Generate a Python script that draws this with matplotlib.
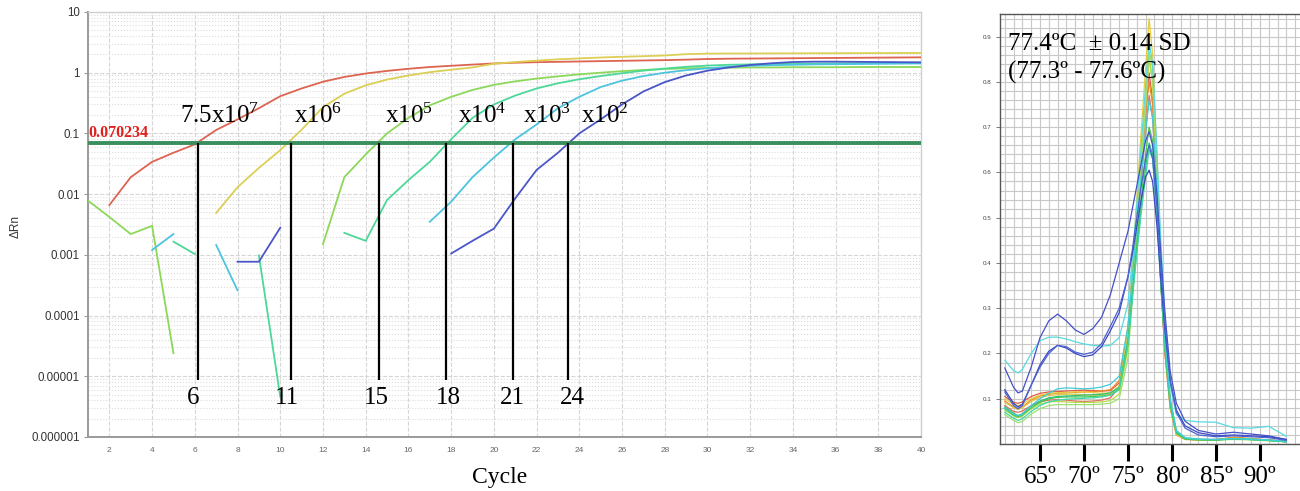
import matplotlib
matplotlib.use('Agg')
import matplotlib.pyplot as plt
import numpy as np
from matplotlib.ticker import MultipleLocator, LogLocator, NullFormatter

plt.rcParams['mathtext.fontset'] = 'custom'
plt.rcParams['mathtext.rm'] = 'Liberation Serif'
plt.rcParams['mathtext.it'] = 'Liberation Serif:italic'

nan = np.nan

# ---------------- amplification plot data ----------------
cycles = list(range(1, 41))

amp_red = [nan, 0.0066, 0.019, 0.034, 0.048, 0.066, 0.114, 0.17, 0.26, 0.41,
           0.55, 0.71, 0.85, 0.97, 1.07, 1.16, 1.24, 1.3, 1.36, 1.42,
           1.46, 1.49, 1.51, 1.53, 1.55, 1.57, 1.59, 1.61, 1.64, 1.68,
           1.7, 1.71, 1.72, 1.73, 1.74, 1.75, 1.76, 1.77, 1.78, 1.79]
amp_yellow = [nan, nan, nan, nan, nan, nan, 0.0049, 0.013, 0.027, 0.053,
              0.115, 0.27, 0.45, 0.62, 0.77, 0.9, 1.02, 1.12, 1.22, 1.4,
              1.5, 1.58, 1.66, 1.72, 1.78, 1.83, 1.87, 1.92, 2.02, 2.06,
              2.07, 2.07, 2.08, 2.08, 2.09, 2.09, 2.1, 2.1, 2.11, 2.11]
amp_green = [0.0078, 0.0042, 0.0022, 0.003, 0.000024, nan, nan, nan, nan, nan,
             nan, 0.0015, 0.019, 0.045, 0.1, 0.18, 0.29, 0.4, 0.52, 0.63,
             0.72, 0.8, 0.87, 0.94, 1.0, 1.06, 1.11, 1.15, 1.18, 1.2,
             1.21, 1.22, 1.22, 1.23, 1.23, 1.23, 1.24, 1.24, 1.24, 1.24]
amp_mint = [nan, nan, nan, nan, 0.00165, 0.00103, nan, nan, 0.00098, 0.0000046,
            nan, nan, 0.0023, 0.0017, 0.008, 0.017, 0.034, 0.08, 0.18, 0.3,
            0.42, 0.55, 0.67, 0.78, 0.88, 0.98, 1.08, 1.17, 1.25, 1.31,
            1.35, 1.37, 1.39, 1.4, 1.41, 1.42, 1.43, 1.44, 1.45, 1.46]
amp_cyan = [nan, nan, nan, 0.0012, 0.0022, nan, 0.00145, 0.00026, nan, nan,
            nan, nan, nan, nan, nan, nan, 0.0035, 0.0075, 0.019, 0.04,
            0.08, 0.14, 0.26, 0.4, 0.58, 0.74, 0.88, 1.0, 1.1, 1.18,
            1.25, 1.3, 1.33, 1.35, 1.37, 1.38, 1.39, 1.4, 1.41, 1.42]
amp_blue = [nan, nan, nan, nan, nan, nan, nan, 0.00077, 0.00077, 0.0028,
            nan, nan, nan, nan, nan, nan, nan, 0.00105, 0.0017, 0.0027,
            0.0085, 0.025, 0.048, 0.1, 0.17, 0.3, 0.49, 0.7, 0.9, 1.08,
            1.22, 1.34, 1.43, 1.5, 1.52, 1.52, 1.51, 1.5, 1.49, 1.48]

amp_series = [amp_red, amp_yellow, amp_green, amp_mint, amp_cyan, amp_blue]
amp_colors = ['#dc6450', '#dccf55', '#8cd85a', '#4cd898', '#4cc4e0', '#4a56c8']

threshold = 0.070234
ct_values = [6.13, 10.5, 14.6, 17.76, 20.88, 23.47]
ct_labels = ['6', '11', '15', '18', '21', '24']
dilution_labels = ['7.5x10$^7$', 'x10$^6$', 'x10$^5$', 'x10$^4$', 'x10$^3$', 'x10$^2$']

# ---------------- melt curve data ----------------
melt_T = [61, 62, 62.5, 63, 64, 65, 66, 67, 68, 69, 70, 71, 72, 73, 74,
          75, 75.5, 76, 76.5, 77, 77.4, 77.8, 78.3, 78.7, 79.2, 79.8, 80.5,
          81.5, 83, 85, 87, 89, 91, 93]

melt_red_a = [0.105, 0.092, 0.090, 0.093, 0.105, 0.112, 0.115, 0.116, 0.117, 0.118, 0.119, 0.118, 0.117, 0.118, 0.135,
              0.25, 0.37, 0.49, 0.61, 0.73, 0.82, 0.76, 0.57, 0.39, 0.22, 0.09, 0.025,
              0.012, 0.010, 0.010, 0.014, 0.011, 0.009, 0.006]
melt_red_b = [0.085, 0.072, 0.070, 0.073, 0.085, 0.093, 0.097, 0.098, 0.097, 0.095, 0.094, 0.095, 0.097, 0.102, 0.125,
              0.24, 0.36, 0.47, 0.58, 0.69, 0.77, 0.72, 0.54, 0.37, 0.2, 0.08, 0.022,
              0.011, 0.009, 0.01, 0.012, 0.01, 0.008, 0.005]
melt_orange = [0.095, 0.082, 0.078, 0.082, 0.097, 0.106, 0.11, 0.112, 0.113, 0.114, 0.115, 0.116, 0.117, 0.12, 0.14,
               0.26, 0.38, 0.5, 0.62, 0.73, 0.80, 0.75, 0.55, 0.37, 0.2, 0.08, 0.02,
               0.01, 0.009, 0.009, 0.015, 0.012, 0.009, 0.006]
melt_yellow_a = [0.1, 0.088, 0.085, 0.088, 0.1, 0.108, 0.112, 0.113, 0.114, 0.115, 0.115, 0.114, 0.112, 0.113, 0.128,
                 0.25, 0.39, 0.54, 0.69, 0.83, 0.94, 0.86, 0.62, 0.41, 0.22, 0.085, 0.022,
                 0.011, 0.009, 0.009, 0.013, 0.011, 0.008, 0.005]
melt_yellow_b = [0.092, 0.08, 0.076, 0.08, 0.094, 0.103, 0.107, 0.109, 0.11, 0.11, 0.109, 0.108, 0.108, 0.11, 0.125,
                 0.24, 0.37, 0.5, 0.63, 0.76, 0.86, 0.8, 0.58, 0.39, 0.21, 0.08, 0.021,
                 0.011, 0.009, 0.009, 0.012, 0.01, 0.008, 0.005]
melt_yellowgreen = [0.075, 0.062, 0.058, 0.062, 0.078, 0.088, 0.093, 0.094, 0.093, 0.092, 0.092, 0.092, 0.093, 0.096, 0.11,
                    0.21, 0.34, 0.48, 0.62, 0.75, 0.85, 0.8, 0.6, 0.42, 0.24, 0.095, 0.026,
                    0.012, 0.01, 0.009, 0.011, 0.01, 0.008, 0.005]
melt_lightgreen = [0.065, 0.052, 0.047, 0.05, 0.066, 0.078, 0.085, 0.087, 0.087, 0.087, 0.087, 0.087, 0.088, 0.09, 0.1,
                   0.19, 0.32, 0.46, 0.61, 0.75, 0.87, 0.83, 0.63, 0.44, 0.25, 0.1, 0.028,
                   0.012, 0.01, 0.009, 0.01, 0.009, 0.007, 0.005]
melt_green = [0.078, 0.064, 0.06, 0.064, 0.08, 0.092, 0.1, 0.103, 0.104, 0.104, 0.104, 0.105, 0.106, 0.108, 0.12,
              0.22, 0.33, 0.44, 0.54, 0.64, 0.70, 0.67, 0.52, 0.37, 0.21, 0.085, 0.024,
              0.011, 0.009, 0.009, 0.011, 0.01, 0.008, 0.005]
melt_teal = [0.082, 0.068, 0.063, 0.067, 0.084, 0.095, 0.102, 0.105, 0.106, 0.107, 0.108, 0.109, 0.11, 0.113, 0.125,
             0.23, 0.33, 0.43, 0.52, 0.61, 0.665, 0.64, 0.5, 0.36, 0.21, 0.09, 0.026,
             0.012, 0.01, 0.009, 0.011, 0.01, 0.008, 0.005]
melt_mint = [0.07, 0.057, 0.052, 0.056, 0.072, 0.085, 0.093, 0.097, 0.099, 0.1, 0.101, 0.102, 0.104, 0.108, 0.122,
             0.22, 0.32, 0.42, 0.51, 0.59, 0.65, 0.63, 0.5, 0.37, 0.22, 0.095, 0.028,
             0.013, 0.01, 0.01, 0.012, 0.01, 0.008, 0.005]
melt_cyan = [0.08, 0.066, 0.062, 0.066, 0.085, 0.1, 0.112, 0.122, 0.124, 0.123, 0.122, 0.123, 0.126, 0.132, 0.15,
             0.26, 0.37, 0.48, 0.59, 0.69, 0.76, 0.72, 0.56, 0.4, 0.24, 0.1, 0.03,
             0.014, 0.011, 0.01, 0.012, 0.011, 0.009, 0.006]
melt_cyan_high = [0.185, 0.162, 0.157, 0.165, 0.2, 0.228, 0.236, 0.236, 0.232, 0.226, 0.221, 0.218, 0.216, 0.218, 0.235,
                  0.31, 0.41, 0.53, 0.66, 0.79, 0.89, 0.84, 0.64, 0.46, 0.28, 0.13, 0.065,
                  0.052, 0.049, 0.048, 0.036, 0.035, 0.039, 0.017]
melt_blue_a = [0.168, 0.125, 0.113, 0.117, 0.17, 0.235, 0.272, 0.287, 0.272, 0.252, 0.242, 0.255, 0.28, 0.33, 0.4,
               0.47, 0.52, 0.57, 0.62, 0.67, 0.69, 0.66, 0.55, 0.43, 0.29, 0.16, 0.09,
               0.05, 0.03, 0.022, 0.026, 0.022, 0.018, 0.01]
melt_blue_b = [0.12, 0.09, 0.082, 0.088, 0.13, 0.175, 0.205, 0.218, 0.212, 0.2, 0.193, 0.197, 0.215, 0.25, 0.29,
               0.37, 0.42, 0.48, 0.54, 0.59, 0.605, 0.58, 0.48, 0.37, 0.25, 0.14, 0.075,
               0.04, 0.025, 0.018, 0.02, 0.018, 0.016, 0.01]
melt_blue_c = [0.115, 0.085, 0.078, 0.085, 0.13, 0.17, 0.2, 0.218, 0.215, 0.203, 0.198, 0.203, 0.222, 0.26, 0.3,
               0.37, 0.43, 0.5, 0.57, 0.63, 0.66, 0.63, 0.52, 0.4, 0.27, 0.14, 0.07,
               0.035, 0.02, 0.016, 0.018, 0.016, 0.014, 0.008]

melt_series = [melt_red_a, melt_red_b, melt_orange, melt_yellow_a, melt_yellow_b,
               melt_yellowgreen, melt_lightgreen, melt_green, melt_teal, melt_mint,
               melt_cyan, melt_cyan_high, melt_blue_a, melt_blue_b, melt_blue_c]
melt_colors = ['#e05a48', '#e07060', '#f08a28', '#e8cc3c', '#d8c850',
               '#b4dc48', '#9ee070', '#44c84c', '#30c078', '#40d8a8',
               '#40ccd8', '#58dae0', '#4450c8', '#3c48c0', '#4a62d0']

temp_ticks = [65, 70, 75, 80, 85, 90]
temp_labels = ['65º', '70º', '75º', '80º', '85º', '90º']

serif = 'Liberation Serif'

fig = plt.figure(figsize=(13, 4.91), dpi=100)

# ================= left panel =================
ax = fig.add_axes([0.0677, 0.110, 0.6408, 0.8656])
for vals, col in zip(amp_series, amp_colors):
    ax.plot(cycles, vals, color=col, lw=1.3, zorder=3)

ax.axhline(threshold, color='#3a8f5e', lw=2.8, zorder=4)
ax.vlines(ct_values, 8.7e-6, threshold, color='black', lw=1.6, zorder=5)

ax.set_yscale('log')
ax.set_xlim(1, 40)
ax.set_ylim(1e-6, 10)
ax.set_xticks(range(2, 41, 2))
ax.set_yticks([1e-6, 1e-5, 1e-4, 1e-3, 1e-2, 1e-1, 1, 10])
ax.set_yticklabels(['0.000001', '0.00001', '0.0001', '0.001', '0.01', '0.1', '1', '10'],
                   fontsize=8.3, color='#333333', family='Liberation Sans')
ax.yaxis.set_minor_locator(LogLocator(base=10, subs=np.arange(2, 10), numticks=20))
ax.yaxis.set_minor_formatter(NullFormatter())
for lab in ax.get_xticklabels():
    lab.set_fontsize(6)
    lab.set_color('#666666')
    lab.set_family('Liberation Sans')
ax.tick_params(axis='both', which='minor', length=0)
ax.tick_params(axis='x', which='major', length=0, pad=7)
ax.tick_params(axis='y', which='major', length=3, width=0.8, color='#9a9a9a', pad=3)
ax.grid(True, which='major', color='#d6d6d6', ls='--', lw=0.8)
ax.grid(True, which='minor', axis='y', color='#dcdcdc', ls=':', lw=0.8)
ax.set_axisbelow(True)
for side in ['left', 'bottom']:
    ax.spines[side].set_color('#9a9a9a')
    ax.spines[side].set_linewidth(1.4)
for side in ['top', 'right']:
    ax.spines[side].set_color('#cfcfcf')
    ax.spines[side].set_linewidth(1.0)

ax.text(1.0, threshold * 1.05, '%.6f' % threshold, color='#e0201c', fontsize=11.5,
        fontweight='bold', family=serif, ha='left', va='bottom', zorder=6)

dil_x = [5.3, 10.65, 14.9, 18.3, 21.37, 24.1]
for x, lab in zip(dil_x, dilution_labels):
    ax.text(x, 0.15, lab, fontsize=18, family=serif, ha='left', va='baseline', zorder=6)

ct_x = [5.92, 10.3, 14.5, 17.85, 20.85, 23.66]
for x, lab in zip(ct_x, ct_labels):
    ax.text(x, 3.5e-6, lab, fontsize=18, family=serif, ha='center', va='baseline', zorder=6)

fig.text(500 / 1300, 1 - 478 / 491, 'Cycle', fontsize=17, family=serif, ha='center', va='center')
fig.text(16 / 1300, 1 - 227 / 491, 'ΔRn', fontsize=8.5, family='Liberation Sans',
         rotation=90, ha='center', va='center', color='#333333')

# ================= right panel =================
ax2 = fig.add_axes([0.7692, 0.0957, 0.2308, 0.8758])
for vals, col in zip(melt_series, melt_colors):
    ax2.plot(melt_T, vals, color=col, lw=0.9, zorder=3)

ax2.set_xlim(60.45, 94.55)
ax2.set_ylim(0, 0.95)
ax2.xaxis.set_minor_locator(MultipleLocator(1))
ax2.yaxis.set_minor_locator(MultipleLocator(0.02))
ax2.grid(True, which='both', color='#c8c8c8', lw=0.8)
ax2.set_axisbelow(True)
ax2.set_yticks([0.1, 0.2, 0.3, 0.4, 0.5, 0.6, 0.7, 0.8, 0.9])
ax2.set_yticklabels(['0.1', '0.2', '0.3', '0.4', '0.5', '0.6', '0.7', '0.8', '0.9'],
                    fontsize=4.5, color='#444444', family='Liberation Sans')
ax2.tick_params(axis='y', which='major', length=3, width=0.6, color='#666666', pad=3)
ax2.tick_params(axis='y', which='minor', length=0)
ax2.set_xticks(temp_ticks)
ax2.set_xticklabels(temp_labels, fontsize=18, family=serif)
ax2.tick_params(axis='x', which='major', length=12, width=2.2, color='black', pad=4)
ax2.tick_params(axis='x', which='minor', length=0)
ax2.spines['right'].set_visible(False)
for side in ['left', 'bottom', 'top']:
    ax2.spines[side].set_color('#555555')
    ax2.spines[side].set_linewidth(1.0)

ax2.text(61.36, 0.87, '77.4ºC  ± 0.14 SD', fontsize=18, family=serif, ha='left', va='baseline', zorder=6)
ax2.text(61.36, 0.808, '(77.3º - 77.6ºC)', fontsize=18, family=serif, ha='left', va='baseline', zorder=6)

fig.savefig('out.png', dpi=100, facecolor='white')
